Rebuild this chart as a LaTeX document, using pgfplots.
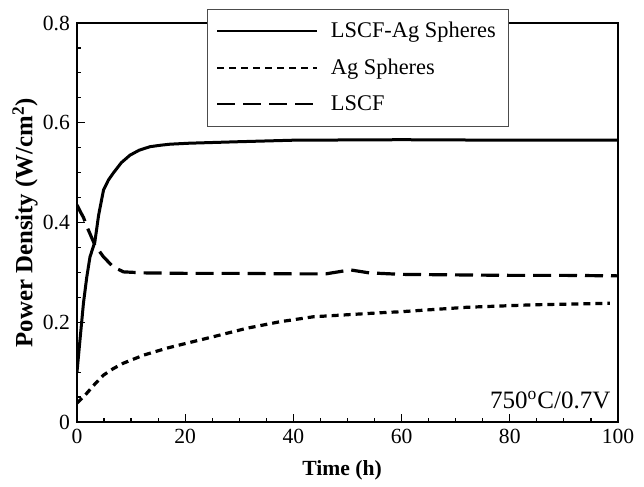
\documentclass[border=0pt]{standalone}
\usepackage{fontspec}
\setmainfont{Liberation Serif}
\usepackage{pgfplots}
\pgfplotsset{compat=1.18}

\begin{document}
\begin{tikzpicture}
\begin{axis}[
    scale only axis,
    width=270.5pt, height=199.5pt,
    xmin=0, xmax=100, ymin=0, ymax=0.8,
    xtick={0,20,...,100},
    ytick={0,0.2,...,0.8},
    minor tick num=3,
    tick pos=left,
    tick align=inside,
    major tick length=4pt,
    minor tick length=2pt,
    axis line style={line width=1pt},
    every tick/.style={black, line width=0.6pt},
    /pgf/number format/assume math mode=true,
    ticklabel style={font=\fontsize{10.8}{12}\selectfont},
    xlabel={\textbf{Time (h)}},
    ylabel={\textbf{Power Density (W/cm\textsuperscript{2})}},
    xlabel style={font=\fontsize{10.8}{12}\selectfont, at={(axis description cs:0.49,-0.12)}, anchor=center},
    ylabel style={font=\fontsize{12.4}{14}\selectfont, at={(axis description cs:-0.096,0.5)}, anchor=center},
    legend style={at={(axis description cs:0.24,1.036)}, anchor=north west,
        draw=black!70, line width=0.5pt, fill=white,
        font=\fontsize{11.2}{13}\selectfont,
        inner xsep=4.5pt, inner ysep=4.5pt, row sep=5pt},
    legend cell align=left,
    legend image code/.code={\draw[#1, line width=1pt] (0pt,0pt) -- (50pt,0pt); \path (54pt,0pt);},
]
\addplot[black, line width=1.5pt] table {
x y
0 0.10
0.6 0.17
1.2 0.239
1.8 0.29
2.4 0.331
3.3 0.361
4.0 0.415
4.9 0.465
5.8 0.485
6.7 0.499
8.2 0.52
9.8 0.535
11.5 0.545
13.5 0.552
15.5 0.555
17.2 0.557
20.8 0.559
30 0.562
40 0.565
60 0.566
80 0.565
100 0.565
};
\addlegendentry{LSCF-Ag Spheres}
\addplot[black, line width=1.6pt, dash pattern=on 3.5pt off 2.5pt] table {
x y
0 0.038
1.8 0.0575
3.3 0.076
4.9 0.094
6.7 0.107
8.6 0.118
12.3 0.134
16.6 0.148
20.3 0.158
25.2 0.171
31.4 0.188
37.5 0.201
43.7 0.211
49.9 0.215
56 0.219
59.7 0.221
72 0.230
84.3 0.235
98.5 0.238
};
\addlegendentry{Ag Spheres}
\addplot[black, line width=1.6pt, dash pattern=on 9pt off 4pt] table {
x y
0 0.435
0.6 0.422
1.2 0.41
2.1 0.385
3.3 0.355
4.9 0.331
6.7 0.311
8.6 0.301
12.3 0.299
20 0.298
30 0.298
40 0.297
46 0.297
50.5 0.305
54 0.299
60 0.296
70 0.295
80 0.294
90 0.294
100 0.293
};
\addlegendentry{LSCF}
\node[anchor=base east, font=\fontsize{12.5}{14}\selectfont] at (axis cs:99.9,0.028) {750\textsuperscript{o}C/0.7V};
\end{axis}
\path (-38.5pt,-31pt) rectangle (283.5pt,211pt);
\end{tikzpicture}
\end{document}
